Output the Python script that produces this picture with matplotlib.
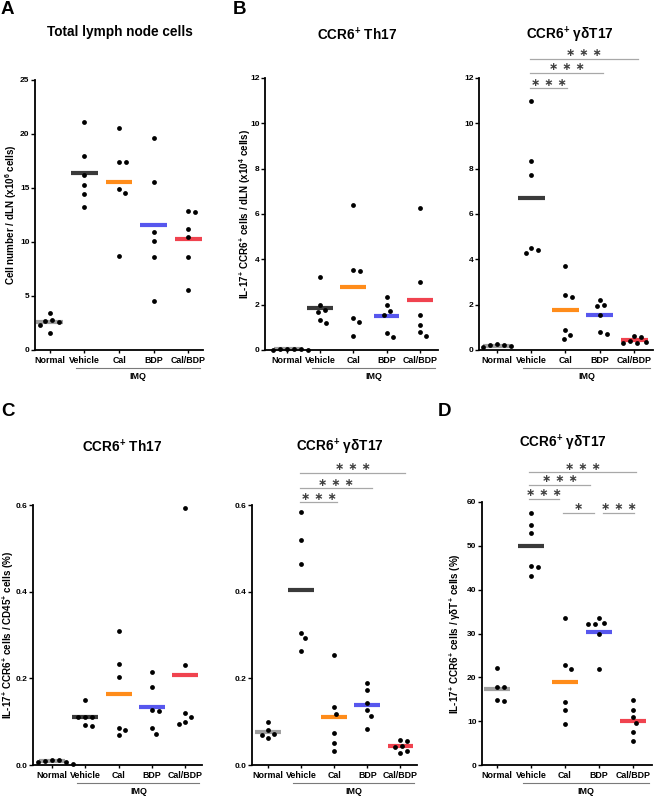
import numpy as np
import matplotlib
matplotlib.use("Agg")
import matplotlib.pyplot as plt
from matplotlib.transforms import ScaledTranslation

plt.rcParams['font.family'] = ['Liberation Sans', 'DejaVu Sans']
plt.rcParams['font.weight'] = 'bold'
plt.rcParams['mathtext.fontset'] = 'custom'
plt.rcParams['mathtext.rm'] = 'Liberation Sans:bold'
plt.rcParams['mathtext.bf'] = 'Liberation Sans:bold'
plt.rcParams['mathtext.it'] = 'Liberation Sans:bold'
plt.rcParams['mathtext.default'] = 'rm'

# ---------------- data ----------------
groups = ["Normal", "Vehicle", "Cal", "BDP", "Cal/BDP"]
group_colors = ["#a0a0a0", "#3a3a3a", "#ff8c1a", "#5757ee", "#f0434f"]

# Panel A: total lymph node cells (x10^6)
a_normal = [3.4, 2.8, 2.7, 2.6, 2.3, 1.6]
a_vehicle = [21.1, 18.0, 16.2, 15.3, 14.4, 13.2]
a_cal = [20.6, 17.4, 17.4, 14.9, 14.5, 8.7]
a_bdp = [19.6, 15.6, 10.9, 10.1, 8.6, 4.5]
a_calbdp = [12.9, 12.8, 11.2, 10.5, 8.6, 5.6]

# Panel B left: CCR6+ Th17 per dLN (x10^4)
b1_normal = [0.05, 0.04, 0.03, 0.03, 0.02, 0.01]
b1_vehicle = [3.2, 1.97, 1.75, 1.68, 1.33, 1.17]
b1_cal = [6.4, 3.5, 3.52, 1.4, 1.25, 0.62]
b1_bdp = [2.35, 1.97, 1.7, 1.55, 0.73, 0.58]
b1_calbdp = [6.25, 2.98, 1.55, 1.12, 0.8, 0.63]

# Panel B right: CCR6+ gdT17 per dLN (x10^4)
b2_normal = [0.27, 0.22, 0.2, 0.17, 0.13]
b2_vehicle = [11.0, 8.35, 7.7, 4.5, 4.42, 4.28]
b2_cal = [3.72, 2.42, 2.33, 0.9, 0.66, 0.5]
b2_bdp = [2.2, 1.97, 1.92, 1.55, 0.78, 0.72]
b2_calbdp = [0.62, 0.58, 0.38, 0.35, 0.33, 0.32]

# Panel C left: CCR6+ Th17 / CD45+ (%)
c1_normal = [0.012, 0.011, 0.009, 0.008, 0.006, 0.003]
c1_vehicle = [0.151, 0.11, 0.11, 0.11, 0.093, 0.089]
c1_cal = [0.31, 0.234, 0.203, 0.086, 0.08, 0.07]
c1_bdp = [0.215, 0.18, 0.127, 0.125, 0.086, 0.072]
c1_calbdp = [0.593, 0.23, 0.12, 0.11, 0.1, 0.095]

# Panel C right: CCR6+ gdT17 / CD45+ (%)
c2_normal = [0.1, 0.08, 0.072, 0.07, 0.062]
c2_vehicle = [0.583, 0.52, 0.463, 0.305, 0.292, 0.262]
c2_cal = [0.255, 0.133, 0.118, 0.075, 0.05, 0.033]
c2_bdp = [0.19, 0.172, 0.142, 0.126, 0.112, 0.084]
c2_calbdp = [0.058, 0.055, 0.043, 0.042, 0.032, 0.028]

# Panel D: CCR6+ gdT17 / gdT+ (%)
d_normal = [22.1, 17.9, 17.7, 14.9, 14.5]
d_vehicle = [57.6, 54.8, 52.9, 45.5, 45.2, 43.2]
d_cal = [33.5, 22.7, 21.8, 14.3, 12.5, 9.4]
d_bdp = [33.5, 32.4, 32.2, 32.2, 29.8, 21.8]
d_calbdp = [14.9, 12.6, 10.9, 9.5, 7.6, 5.4]

titles = ["Total lymph node cells", r"CCR6$^{+}$ Th17", "CCR6$^{+}$ \u03b3\u03b4T17",
          r"CCR6$^{+}$ Th17", "CCR6$^{+}$ \u03b3\u03b4T17", "CCR6$^{+}$ \u03b3\u03b4T17"]
ylabels = [r"Cell number / dLN (x10$^{6}$ cells)",
           r"IL-17$^{+}$ CCR6$^{+}$ cells / dLN (x10$^{4}$ cells)",
           None,
           r"IL-17$^{+}$ CCR6$^{+}$ cells / CD45$^{+}$ cells (%)",
           None,
           "IL-17$^{+}$ CCR6$^{+}$ cells / \u03b3\u03b4T$^{+}$ cells (%)"]
yticks_a = [0, 5, 10, 15, 20, 25]
yticks_b = [0, 2, 4, 6, 8, 10, 12]
yticks_c = [0.0, 0.2, 0.4, 0.6]
yticks_d = [0, 10, 20, 30, 40, 50, 60]

# significance comparisons: (group i, group j, label)
sig_b2 = [(1, 2, "***"), (1, 3, "***"), (1, 4, "***")]
sig_c2 = [(1, 2, "***"), (1, 3, "***"), (1, 4, "***")]
sig_d = [(1, 2, "***"), (1, 3, "***"), (1, 4, "***"), (2, 3, "*"), (3, 4, "***")]

# ---------------- layout ----------------
W, H = 654, 796
fig = plt.figure(figsize=(W / 100, H / 100), dpi=100)


def add_ax(left, right, top, bottom):
    return fig.add_axes([left / W, 1 - bottom / H, (right - left) / W, (bottom - top) / H])


def swarm_offsets(vals, ypx, xpx, d=6.8):
    vals = np.asarray(vals, float)
    order = np.argsort(-vals)
    placed = []
    offs = np.zeros(len(vals))
    for i in order:
        y = vals[i] * ypx
        cand = [0]
        for k in range(1, 60):
            cand += [k * 0.5, -k * 0.5]
        for c in cand:
            ok = all((c - px) ** 2 + (y - py) ** 2 >= d * d for px, py in placed)
            if ok:
                offs[i] = c
                placed.append((c, y))
                break
    return offs / xpx


def panel(rect, xlim, ylim, yticks, ytl, data, ylabel, ylab_off, title, title_xy):
    left, right, top, bottom = rect
    ax = add_ax(left, right, top, bottom)
    ax.set_xlim(*xlim)
    ax.set_ylim(*ylim)
    wpx = right - left
    hpx = bottom - top
    xpx = wpx / (xlim[1] - xlim[0])
    ypx = hpx / (ylim[1] - ylim[0])
    for i, vals in enumerate(data):
        m = np.mean(vals)
        ax.hlines(m, i - 0.39, i + 0.39, colors=group_colors[i], lw=3.0, zorder=2, clip_on=False)
        offs = swarm_offsets(vals, ypx, xpx)
        ax.scatter(i + offs, vals, s=12, c="black", zorder=3, clip_on=False, linewidths=0)
    for s in ["top", "right"]:
        ax.spines[s].set_visible(False)
    for s in ["left", "bottom"]:
        ax.spines[s].set_linewidth(1.3)
    ax.set_xticks(range(len(groups)))
    ax.set_xticklabels(groups, fontsize=6.4, fontweight="bold")
    ax.set_yticks(yticks)
    ax.set_yticklabels(ytl, fontsize=6.0, fontweight="bold")
    ax.tick_params(axis="y", length=3, width=1.0, pad=1)
    ax.tick_params(axis="x", length=2.5, width=1.0, pad=1.5)
    if ylabel:
        ax.set_ylabel(ylabel, fontsize=7.1, fontweight="bold")
        ax.yaxis.label.set_verticalalignment("center")
        ax.yaxis.set_label_coords(ylab_off / wpx, 0.5)
    # IMQ bracket
    tr = ax.get_xaxis_transform() + ScaledTranslation(0, -18 / 100, fig.dpi_scale_trans)
    ax.plot([0.76, xlim[1] - 0.08], [0, 0], transform=tr, color="#7a7a7a", lw=0.8, clip_on=False)
    tr2 = ax.get_xaxis_transform() + ScaledTranslation(0, -27 / 100, fig.dpi_scale_trans)
    ax.text((0.76 + xlim[1] - 0.08) / 2, 0, "IMQ", transform=tr2, ha="center", va="center",
            fontsize=6.4, fontweight="bold")
    fig.text(title_xy[0] / W, 1 - title_xy[1] / H, title, ha="center", va="center",
             fontsize=9.8, fontweight="bold")
    return ax, hpx


def draw_sig(ax, hpx, sig, specs):
    for (i, j, lab), (x0, x1, ypix) in zip(sig, specs):
        yf = ypix / hpx + 1.0
        ax.plot([x0, x1], [yf, yf], transform=ax.get_xaxis_transform(), color="#a8a8a8",
                lw=0.9, clip_on=False)
        star = " ".join(["\u2217"] * len(lab))
        ax.text((x0 + x1) / 2, yf, star, transform=ax.get_xaxis_transform()
                + ScaledTranslation(0, 0.5 / 100, fig.dpi_scale_trans),
                ha="center", va="bottom", fontsize=8, color="#404040",
                family="DejaVu Sans", fontweight="bold")


# Panel A
panel((35, 203, 80, 350), (-0.43, 4.43), (0, 25), yticks_a, [str(v) for v in yticks_a],
      [a_normal, a_vehicle, a_cal, a_bdp, a_calbdp], ylabels[0], -24, titles[0], (120, 32))
# Panel B left
panel((265, 438, 78, 350), (-0.66, 4.55), (0, 12), yticks_b, [str(v) for v in yticks_b],
      [b1_normal, b1_vehicle, b1_cal, b1_bdp, b1_calbdp], ylabels[1], -20, titles[1], (357, 35))
# Panel B right
axb2, hb2 = panel((479, 653, 78, 350), (-0.52, 4.55), (0, 12), yticks_b, [str(v) for v in yticks_b],
                  [b2_normal, b2_vehicle, b2_cal, b2_bdp, b2_calbdp], None, 0, titles[2], (570, 35))
draw_sig(axb2, hb2, sig_b2, [(0.96, 2.05, -10), (0.96, 3.1, 5), (0.96, 4.1, 19)])
# Panel C left
panel((33, 202, 505, 765), (-0.57, 4.5), (0, 0.6), yticks_c, ["%.1f" % v for v in yticks_c],
      [c1_normal, c1_vehicle, c1_cal, c1_bdp, c1_calbdp], ylabels[3], -25, titles[3], (122, 447))
# Panel C right
axc2, hc2 = panel((252, 417, 505, 765), (-0.48, 4.5), (0, 0.6), yticks_c, ["%.1f" % v for v in yticks_c],
                  [c2_normal, c2_vehicle, c2_cal, c2_bdp, c2_calbdp], None, 0, titles[4], (340, 447))
draw_sig(axc2, hc2, sig_c2, [(0.97, 2.09, 3), (0.97, 3.15, 17), (0.97, 4.15, 32)])
# Panel D
axd, hd = panel((482, 652, 502, 765), (-0.44, 4.56), (0, 60), yticks_d, [str(v) for v in yticks_d],
                [d_normal, d_vehicle, d_cal, d_bdp, d_calbdp], ylabels[5], -27, titles[5], (563, 443))
draw_sig(axd, hd, sig_d, [(0.94, 1.82, 3), (0.94, 2.74, 17), (0.94, 4.1, 30),
                          (1.94, 2.85, -11), (3.12, 4.03, -11)])

# panel letters
for lab, x, y in [("A", 1, 10), ("B", 233, 10), ("C", 1, 412), ("D", 438, 412)]:
    fig.text(x / W, 1 - y / H, lab, ha="left", va="center", fontsize=13.5, fontweight="bold")

fig.savefig("out.png", dpi=100)
